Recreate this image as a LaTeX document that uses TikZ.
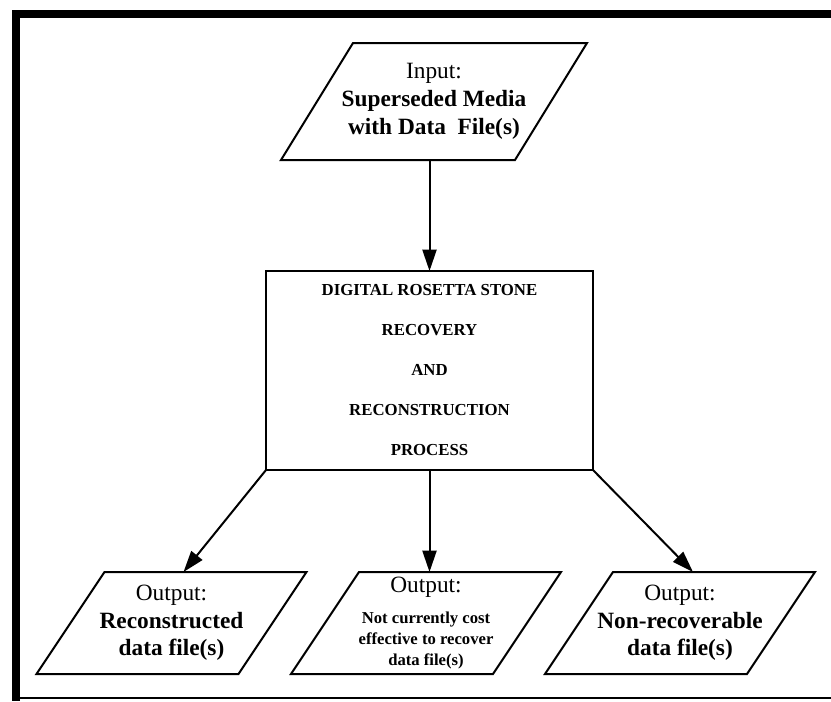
\documentclass[tikz,border=0pt]{standalone}
\usepackage{fontspec}
\setmainfont{Liberation Serif}
\usetikzlibrary{arrows.meta,calc}
% outline of a slanted (data) box around a text node
\newcommand\slantframe[2]{%
  \draw ($(#1.north west)+(#2/2,0)$) -- ($(#1.north east)+(#2/2,0)$)
     -- ($(#1.south east)-(#2/2,0)$) -- ($(#1.south west)-(#2/2,0)$) -- cycle;}
\begin{document}
\begin{tikzpicture}[x=0.75pt,y=-0.75pt,line width=1.5pt,line join=miter,
  box/.style={inner sep=0pt,outer sep=0pt,align=center},
  inbox/.style={box,minimum width=175.5pt,minimum height=87.75pt,
    font=\fontsize{17.5}{21}\selectfont},
  outbox/.style={box,minimum width=151.5pt,minimum height=76.5pt,
    font=\fontsize{17.5}{20.5}\selectfont},
  notebox/.style={outbox,font=\fontsize{12.5}{15.75}\selectfont\bfseries},
  procbox/.style={box,draw,minimum width=245.25pt,minimum height=149.25pt,
    font=\fontsize{12.6}{30}\selectfont\bfseries},
  flow/.style={-{Triangle[length=16pt,width=10.5pt]}},
]
\useasboundingbox (0,0) rectangle (831,701);
% page frame
\fill (12,10) rectangle (831,18);
\fill (12,10) rectangle (20,701);
\draw (12,698) -- (831,698);

% input
\node[inbox] (inp) at (434,101.5)
  {Input:\\ \textbf{Superseded Media}\\ \textbf{with Data\ \ File(s)}};
\slantframe{inp}{72}

% process
\node[procbox] (proc) at (429.5,370.5)
  {DIGITAL ROSETTA STONE\\ RECOVERY\\ AND\\ RECONSTRUCTION\\ PROCESS};

% outputs
\node[outbox] (o1) at (171.5,623)
  {Output:\\ \textbf{Reconstructed}\\ \textbf{data file(s)}};
\slantframe{o1}{68}
\node[notebox] (o2) at (426,623)
  {{\fontsize{17.5}{21}\selectfont\mdseries Output:}\\[7pt]
   Not currently cost\\ effective to recover\\ data file(s)};
\slantframe{o2}{68}
\node[outbox] (o3) at (680,623)
  {Output:\\ \textbf{Non-recoverable}\\ \textbf{data file(s)}};
\slantframe{o3}{68}

% connectors
\draw[flow] (proc.north |- inp.south) -- (proc.north);
\draw[flow] (proc.south west) -- ($(o1.north)+(12,0)$);
\draw[flow] (proc.south) -- (proc.south |- o2.north);
\draw[flow] (proc.south east) -- ($(o3.north)+(13,0)$);
\end{tikzpicture}
\end{document}
